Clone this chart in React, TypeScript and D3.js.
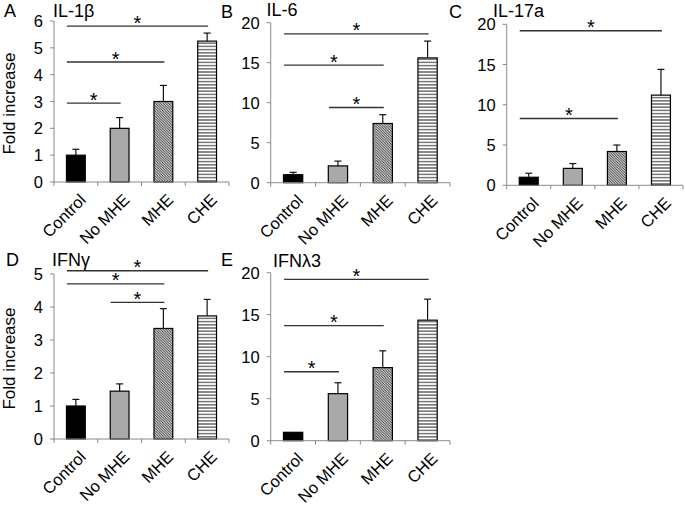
import React from "react";
import * as d3 from "d3";

const categories = ["Control", "No MHE", "MHE", "CHE"];

const il1bMean = [1.0, 2.0, 3.0, 5.25];
const il1bErr = [0.22, 0.4, 0.6, 0.3];
const il6Mean = [1.0, 2.1, 7.4, 15.6];
const il6Err = [0.3, 0.6, 1.1, 2.1];
const il17Mean = [1.0, 2.1, 4.2, 11.2];
const il17Err = [0.5, 0.6, 0.8, 3.2];
const ifngMean = [1.0, 1.45, 3.35, 3.73];
const ifngErr = [0.2, 0.22, 0.6, 0.5];
const ifnl3Mean = [1.0, 5.6, 8.7, 14.35];
const ifnl3Err = [0.0, 1.3, 2.0, 2.5];

// significance brackets: [fromIndex, toIndex, yValue]
const il1bSig = [[0, 1, 2.94], [0, 2, 4.47], [0, 3, 5.81]];
const il6Sig = [[0, 3, 18.6], [0, 2, 14.7], [1, 2, 9.4]];
const il17Sig = [[0, 3, 19.2], [0, 2, 8.3]];
const ifngSig = [[0, 3, 5.1], [0, 2, 4.7], [1, 2, 4.14]];
const ifnl3Sig = [[0, 3, 19.2], [0, 2, 13.7], [0, 1, 8.2]];

const il1bTicks = [0, 1, 2, 3, 4, 5, 6];
const wideTicks = [0, 5, 10, 15, 20];
const ifngTicks = [0, 1, 2, 3, 4, 5];

const FONT = "'Liberation Sans', Arial, Helvetica, sans-serif";
const fills = ["#000000", "#a9a9a9", "url(#diagHatch)", "url(#horizHatch)"];

type PanelProps = {
  letter: string;
  title: string;
  mean: number[];
  err: number[];
  sig: number[][];
  ticks: number[];
  left: number;
  right: number;
  base: number;
  top: number;
  letterX: number;
  letterY: number;
  titleX: number;
  titleY: number;
  yLabel: boolean;
};

function Panel(p: PanelProps) {
  const max = p.ticks[p.ticks.length - 1];
  const y = d3.scaleLinear().domain([0, max]).range([p.base, p.top]);
  const x = d3.scaleBand<string>().domain(categories).range([p.left, p.right]).padding(0);
  const bw = x.bandwidth();
  const barW = bw * 0.43;
  const axisColor = "#8a8a8a";
  const boundaries = d3.range(categories.length + 1).map((i) => p.left + i * bw);
  return (
    <g>
      <text x={p.letterX} y={p.letterY} fontSize={18} fontFamily={FONT}>{p.letter}</text>
      <text x={p.titleX} y={p.titleY} fontSize={18} fontFamily={FONT}>{p.title}</text>
      {p.yLabel && (
        <text
          transform={`translate(${p.left - 39},${(p.base + p.top) / 2 + 2}) rotate(-90)`}
          textAnchor="middle"
          fontSize={17}
          fontFamily={FONT}
        >
          Fold increase
        </text>
      )}
      {/* y axis */}
      <line x1={p.left} x2={p.left} y1={p.base} y2={p.top} stroke={axisColor} strokeWidth={1} />
      {p.ticks.map((t) => (
        <g key={t}>
          <line x1={p.left - 4} x2={p.left} y1={y(t)} y2={y(t)} stroke={axisColor} strokeWidth={1} />
          <text x={p.left - 11} y={y(t) + 6} textAnchor="end" fontSize={16.5} fontFamily={FONT}>{t}</text>
        </g>
      ))}
      {/* bars */}
      {categories.map((c, i) => {
        const cx = (x(c) as number) + bw / 2;
        const yt = y(p.mean[i]);
        const ye = y(p.mean[i] + p.err[i]);
        return (
          <g key={c}>
            <rect x={cx - barW / 2} y={yt} width={barW} height={p.base - yt} fill={fills[i]} stroke="#000" strokeWidth={1.2} />
            {p.err[i] > 0 && (
              <g stroke="#111" strokeWidth={1.2}>
                <line x1={cx} x2={cx} y1={yt} y2={ye} />
                <line x1={cx - 3.5} x2={cx + 3.5} y1={ye} y2={ye} />
              </g>
            )}
            <text
              transform={`translate(${cx + 11},${p.base + 19}) rotate(-45)`}
              textAnchor="end"
              fontSize={16.5}
              fontFamily={FONT}
            >
              {c}
            </text>
          </g>
        );
      })}
      {/* x axis */}
      <line x1={p.left} x2={p.right} y1={p.base} y2={p.base} stroke={axisColor} strokeWidth={1} />
      {boundaries.map((bx, i) => (
        <line key={i} x1={bx} x2={bx} y1={p.base} y2={p.base + 4} stroke={axisColor} strokeWidth={1} />
      ))}
      {/* significance */}
      {p.sig.map((s, i) => {
        const x1 = (x(categories[s[0]]) as number) + bw / 2 - 9;
        const x2 = (x(categories[s[1]]) as number) + bw / 2 + 1;
        const yy = y(s[2]);
        return (
          <g key={i}>
            <line x1={x1} x2={x2} y1={yy} y2={yy} stroke="#333" strokeWidth={1.4} />
            <text x={(x1 + x2) / 2} y={yy + 3.5} textAnchor="middle" fontSize={20} fontFamily={FONT}>*</text>
          </g>
        );
      })}
    </g>
  );
}

export default function App() {
  return (
    <svg
      width={685}
      height={506}
      style={{ position: "absolute", left: 0, top: 0, background: "#fff" }}
    >
      <defs>
        <pattern id="diagHatch" patternUnits="userSpaceOnUse" width={2.6} height={2.6}>
          <rect width={2.6} height={2.6} fill="#fff" />
          <path d="M0,0 L2.6,2.6 M-1,1.6 L1,3.6 M1.6,-1 L3.6,1" stroke="#333" strokeWidth={1} />
        </pattern>
        <pattern id="horizHatch" patternUnits="userSpaceOnUse" width={4} height={3.2}>
          <rect width={4} height={3.2} fill="#fff" />
          <line x1={0} x2={4} y1={1.6} y2={1.6} stroke="#666" strokeWidth={1.4} />
        </pattern>
      </defs>
      <rect width={685} height={506} fill="#fff" />
      <Panel letter="A" title="IL-1β" mean={il1bMean} err={il1bErr} sig={il1bSig} ticks={il1bTicks}
        left={54} right={229} base={182} top={21} letterX={4} letterY={17} titleX={53} titleY={17} yLabel={true} />
      <Panel letter="B" title="IL-6" mean={il6Mean} err={il6Err} sig={il6Sig} ticks={wideTicks}
        left={270.7} right={450} base={182.7} top={22.7} letterX={221} letterY={18} titleX={266.5} titleY={16} yLabel={false} />
      <Panel letter="C" title="IL-17a" mean={il17Mean} err={il17Err} sig={il17Sig} ticks={wideTicks}
        left={506.7} right={683} base={185.3} top={24.3} letterX={449} letterY={18} titleX={493} titleY={17} yLabel={false} />
      <Panel letter="D" title="IFNγ" mean={ifngMean} err={ifngErr} sig={ifngSig} ticks={ifngTicks}
        left={54} right={229} base={439} top={274} letterX={6} letterY={266} titleX={52} titleY={266} yLabel={true} />
      <Panel letter="E" title="IFNλ3" mean={ifnl3Mean} err={ifnl3Err} sig={ifnl3Sig} ticks={wideTicks}
        left={270.7} right={450} base={440.7} top={272.7} letterX={221} letterY={266} titleX={273} titleY={267} yLabel={false} />
    </svg>
  );
}
